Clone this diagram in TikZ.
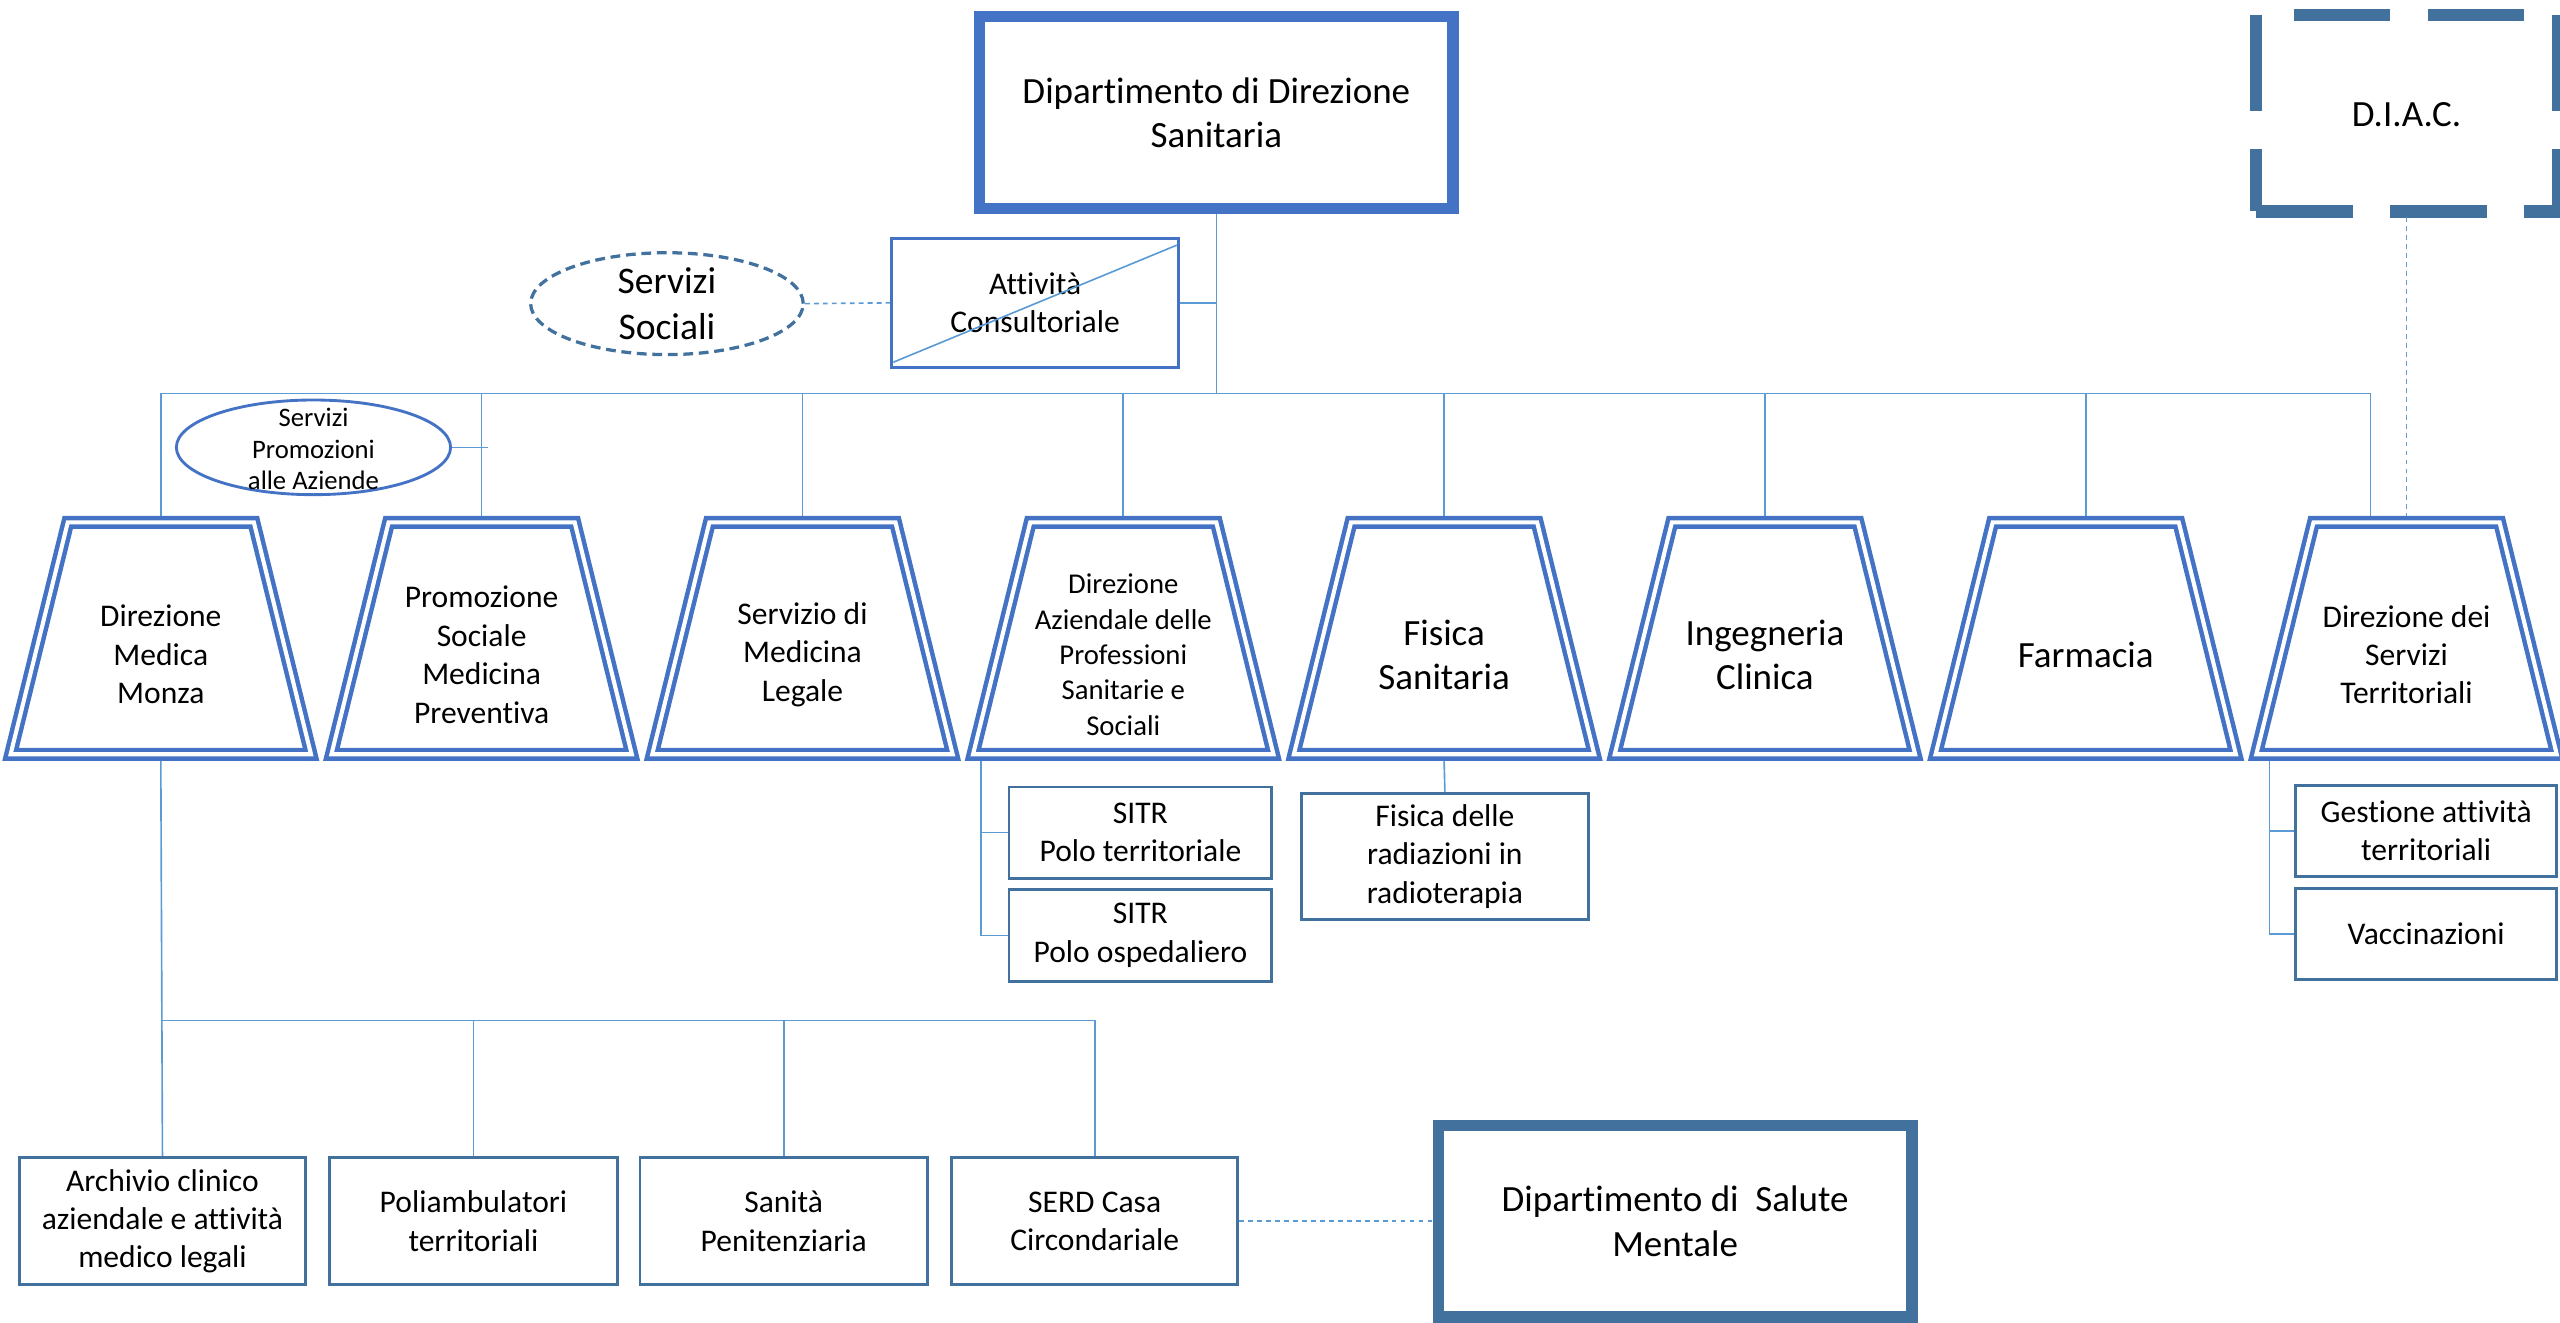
\documentclass[tikz,border=0pt]{standalone}
\usepackage{fontspec}
\setmainfont{Carlito}[Ligatures={NoCommon,NoContextual}]
\usetikzlibrary{shapes.geometric}
\definecolor{brightblue}{HTML}{4472C4}
\definecolor{steel}{HTML}{41719C}
\definecolor{lineblue}{HTML}{5B9BD5}
\newcommand{\fzBig}{\fontsize{12.9}{15.4}\selectfont}
\newcommand{\fzSS}{\fontsize{13.1}{16}\selectfont}
\newcommand{\fzMed}{\fontsize{11}{13.4}\selectfont}
\newcommand{\fzSm}{\fontsize{10}{12.3}\selectfont}
\newcommand{\fzXs}{\fontsize{9.3}{11.1}\selectfont}
\begin{document}
\begin{tikzpicture}[x=0.02cm,y=-0.02cm,
  conn/.style={draw=lineblue,line width=0.02cm},
  dconn/.style={conn,dash pattern=on 0.06cm off 0.05cm},
  bigbox/.style={draw=#1,line width=0.14cm,minimum width=5.8cm,minimum height=2.35cm,align=center,inner sep=0pt,font=\fzBig},
  sbox/.style={draw=steel,line width=0.035cm,align=center,inner sep=0pt,font=\fzMed},
  tzline/.style={draw=brightblue,line width=0.055cm,double=white,double distance=0.05cm,line join=miter},
  tztext/.style={align=center,inner sep=0pt},
  diacline/.style={draw=steel,line width=0.15cm,dash pattern=on 1.18cm off 0.46cm}
]
\useasboundingbox (0,0) rectangle (1568,810);

% top department
\node[bigbox=brightblue] (dds) at (745,69) {Dipartimento di Direzione\\Sanitaria};

% D.I.A.C. dashed box
\draw[diacline,dash phase=1.18cm] (1382,9) -- (1568,9);
\draw[diacline] (1382,129.5) -- (1568,129.5);
\draw[diacline] (1382,9) -- (1382,129.5);
\draw[diacline] (1567,9) -- (1567,129.5);
\node[font=\fzBig,inner sep=0pt] (diac) at (1474,70) {D.I.A.C.};
\coordinate (diacb) at (1474,133);

% Attivita consultoriale
\node[draw=brightblue,line width=0.035cm,minimum width=3.52cm,minimum height=1.58cm,align=center,inner sep=0pt,font=\fzMed] (att) at (634,185.5) {Attività\\Consultoriale};
\path (att.south west) ++(2,-4) coordinate (attd1) (att.north east) ++(-2,5) coordinate (attd2);
\draw[conn] (attd1) -- (attd2);

% Servizi Sociali
\node[ellipse,draw=steel,line width=0.04cm,dash pattern=on 0.12cm off 0.07cm,minimum width=3.34cm,minimum height=1.2cm,inner sep=0pt,align=center,font=\fzSS] (ss) at (408.5,186) {Servizi\\Sociali};

% Servizi Promozioni alle Aziende
\node[ellipse,draw=brightblue,line width=0.035cm,minimum width=3.36cm,minimum height=1.16cm,inner sep=0pt] (spa) at (192,274) {};
\node[align=center,inner sep=0pt,font=\fzXs] (spat) at (192,275) {Servizi\\Promozioni\\alle Aziende};

% trapezoids
\foreach \i/\x in {1/98.5,2/295,3/491.5,4/688,5/884.5,6/1081,7/1277.5,8/1474} {
  \draw[tzline] (\x-57,320) -- (\x+57,320) -- (\x+92,462) -- (\x-92,462) -- cycle;
  \coordinate (tzt\i) at (\x,316);
  \coordinate (tzb\i) at (\x,466);
}
\node[tztext,font=\fzMed] (tz1) at (98.5,401) {Direzione\\Medica\\Monza};
\node[tztext,font=\fzMed] (tz2) at (295,401) {Promozione\\Sociale\\Medicina\\Preventiva};
\node[tztext,font=\fzMed] (tz3) at (491.5,401) {Servizio di\\Medicina\\Legale};
\node[tztext,font=\fzSm] (tz4) at (688,401) {Direzione\\Aziendale delle\\Professioni\\Sanitarie e\\Sociali};
\node[tztext,font=\fzBig] (tz5) at (884.5,401) {Fisica\\Sanitaria};
\node[tztext,font=\fzBig] (tz6) at (1081,401) {Ingegneria\\Clinica};
\node[tztext,font=\fzBig] (tz7) at (1277.5,401) {Farmacia};
\node[tztext,font=\fzMed] (tz8) at (1474,401) {Direzione dei\\Servizi\\Territoriali};
\coordinate (tzt8b) at (1452,316);

% sub boxes
\node[sbox,minimum width=3.22cm,minimum height=1.12cm] (sitr1) at (698.5,510) {SITR\\Polo territoriale};
\node[sbox,minimum width=3.22cm,minimum height=1.12cm] (sitr2) at (698.5,573) {SITR\\Polo ospedaliero};
\node[sbox,minimum width=3.52cm,minimum height=1.54cm] (fdr) at (885,524.5) {Fisica delle\\radiazioni in\\radioterapia};
\node[sbox,minimum width=3.2cm,minimum height=1.12cm] (gat) at (1486,509) {Gestione attività\\territoriali};
\node[sbox,minimum width=3.2cm,minimum height=1.12cm] (vac) at (1486,572) {Vaccinazioni};

% bottom boxes
\node[sbox,minimum width=3.5cm,minimum height=1.56cm] (arch) at (99.5,748) {Archivio clinico\\aziendale e attività\\medico legali};
\node[sbox,minimum width=3.52cm,minimum height=1.56cm] (poli) at (290,748) {Poliambulatori\\territoriali};
\node[sbox,minimum width=3.52cm,minimum height=1.56cm] (sani) at (480,748) {Sanità\\Penitenziaria};
\node[sbox,minimum width=3.5cm,minimum height=1.56cm] (serd) at (670.5,748) {SERD Casa\\Circondariale};
\node[bigbox=steel] (dsm) at (1026,748) {Dipartimento di~~Salute\\Mentale};

% connectors
\coordinate (busL) at (98.5,241);
\coordinate (busR) at (1452,241);
\draw[conn] (dds.south) -- (dds.south |- busL);
\draw[conn] (busL) -- (busR);
\draw[conn] (att.east) -- (att.east -| dds.south);
\draw[dconn] (ss.east) -- (att.west);
\foreach \i in {1,...,7} { \draw[conn] (tzt\i |- busL) -- (tzt\i); }
\draw[conn] (busR) -- (tzt8b);
\draw[conn] (spa.east) -- ++(22,0) coordinate (spae);
\draw[dconn] (diacb) -- (tzt8);

\coordinate (tz4L) at (601,466);
\draw[conn] (tz4L) -- (tz4L |- sitr2.west);
\draw[conn] (tz4L |- sitr1.west) -- (sitr1.west);
\draw[conn] (tz4L |- sitr2.west) -- (sitr2.west);
\draw[conn] (tzb5) -- (fdr.north);
\coordinate (tz8L) at (1390,466);
\draw[conn] (tz8L) -- (tz8L |- vac.west);
\draw[conn] (tz8L |- gat.west) -- (gat.west);
\draw[conn] (tz8L |- vac.west) -- (vac.west);

\coordinate (hb) at (99.5,625);
\draw[conn] (tzb1) -- (arch.north);
\draw[conn] (hb) -- (hb -| serd.north) -- (serd.north);
\draw[conn] (poli.north |- hb) -- (poli.north);
\draw[conn] (sani.north |- hb) -- (sani.north);
\draw[dconn,line width=0.03cm] (serd.east) -- (dsm.west);
\end{tikzpicture}
\end{document}
